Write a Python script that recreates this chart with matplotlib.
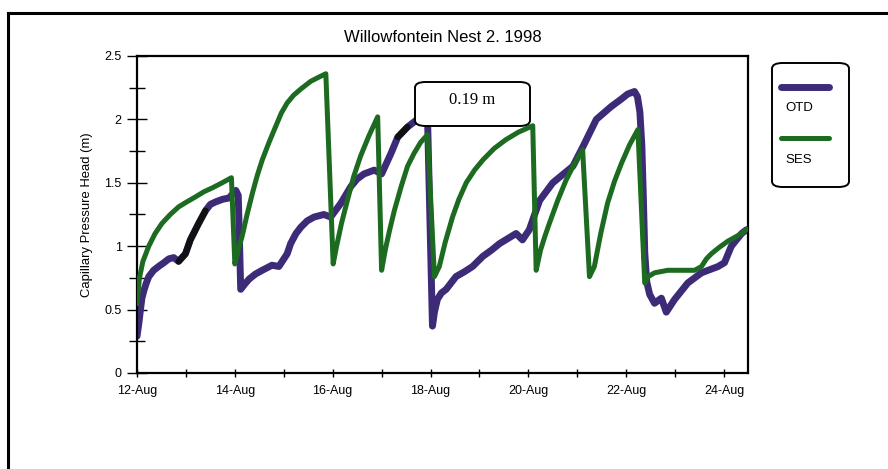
import numpy as np
import matplotlib.pyplot as plt
from matplotlib.lines import Line2D
from matplotlib.patches import FancyBboxPatch

plt.rcParams['font.family'] = ['Liberation Sans', 'DejaVu Sans']

# Дни августа 1998 (дробные) и напор, м
otd_day = [12.0, 12.04, 12.07, 12.10, 12.14, 12.19, 12.24, 12.34, 12.44, 12.55,
           12.65, 12.75, 12.85, 12.99, 13.09, 13.26, 13.40, 13.50, 13.61, 13.75,
           13.88, 14.02, 14.07, 14.12, 14.20, 14.29, 14.42, 14.56, 14.66, 14.76,
           14.90, 15.07, 15.14, 15.25, 15.35, 15.48, 15.62, 15.82, 15.96, 16.17,
           16.37, 16.50, 16.64, 16.85, 17.00, 17.19, 17.33, 17.53, 17.73, 17.94,
           18.04, 18.08, 18.14, 18.22, 18.32, 18.52, 18.70, 18.86, 19.07, 19.25,
           19.41, 19.58, 19.75, 19.88, 20.02, 20.23, 20.50, 20.72, 20.91, 21.11,
           21.39, 21.69, 21.90, 22.03, 22.17, 22.23, 22.28, 22.32, 22.35, 22.38,
           22.42, 22.48, 22.58, 22.72, 22.82, 22.99, 23.26, 23.54, 23.88, 24.01,
           24.15, 24.36, 24.46]
otd_val = [0.29, 0.40, 0.50, 0.59, 0.65, 0.71, 0.76, 0.81, 0.84, 0.87,
           0.90, 0.91, 0.88, 0.94, 1.05, 1.18, 1.28, 1.33, 1.35, 1.37,
           1.38, 1.44, 1.40, 0.66, 0.70, 0.74, 0.78, 0.81, 0.83, 0.85,
           0.84, 0.94, 1.02, 1.10, 1.15, 1.20, 1.23, 1.25, 1.23, 1.34,
           1.47, 1.53, 1.57, 1.60, 1.57, 1.73, 1.86, 1.94, 2.00, 2.00,
           0.37, 0.48, 0.58, 0.63, 0.66, 0.76, 0.80, 0.84, 0.92, 0.97,
           1.02, 1.06, 1.10, 1.05, 1.13, 1.36, 1.50, 1.57, 1.63, 1.78,
           2.00, 2.10, 2.16, 2.20, 2.22, 2.18, 2.06, 1.80, 1.40, 0.95,
           0.72, 0.62, 0.55, 0.59, 0.48, 0.58, 0.71, 0.79, 0.84, 0.87,
           1.00, 1.10, 1.13]

ses_day = [12.0, 12.05, 12.12, 12.24, 12.37, 12.51, 12.68, 12.85, 13.02, 13.20,
           13.37, 13.54, 13.74, 13.93, 14.00, 14.07, 14.15, 14.25, 14.36, 14.46,
           14.56, 14.70, 14.83, 14.95, 15.07, 15.20, 15.35, 15.55, 15.70, 15.86,
           16.01, 16.08, 16.18, 16.30, 16.43, 16.57, 16.74, 16.92, 17.00, 17.08,
           17.16, 17.26, 17.40, 17.53, 17.66, 17.80, 17.94, 18.08, 18.18, 18.30,
           18.45, 18.58, 18.73, 18.90, 19.07, 19.30, 19.54, 19.80, 20.09, 20.16,
           20.25, 20.34, 20.43, 20.60, 20.77, 20.94, 21.11, 21.25, 21.35, 21.48,
           21.62, 21.76, 21.90, 22.07, 22.24, 22.38, 22.45, 22.58, 22.85, 23.40,
           23.54, 23.64, 23.74, 23.90, 24.08, 24.22, 24.36, 24.46]
ses_val = [0.55, 0.75, 0.88, 1.00, 1.10, 1.18, 1.25, 1.31, 1.35, 1.39,
           1.43, 1.46, 1.50, 1.54, 0.86, 0.97, 1.08, 1.25, 1.42, 1.56,
           1.68, 1.82, 1.94, 2.05, 2.13, 2.19, 2.24, 2.30, 2.33, 2.36,
           0.86, 1.00, 1.18, 1.36, 1.55, 1.71, 1.87, 2.02, 0.81, 0.98,
           1.12, 1.28, 1.47, 1.63, 1.73, 1.82, 1.88, 0.76, 0.84, 1.03,
           1.23, 1.37, 1.50, 1.60, 1.68, 1.77, 1.84, 1.90, 1.95, 0.81,
           0.97, 1.08, 1.18, 1.36, 1.52, 1.65, 1.76, 0.76, 0.84, 1.10,
           1.34, 1.51, 1.65, 1.80, 1.92, 0.71, 0.76, 0.79, 0.81, 0.81,
           0.84, 0.90, 0.94, 0.99, 1.04, 1.07, 1.10, 1.13]

x_ticks = list(range(12, 25))
x_labels = ['12-Aug', '', '14-Aug', '', '16-Aug', '', '18-Aug', '', '20-Aug',
            '', '22-Aug', '', '24-Aug']

otd_color = '#3d2b78'
ses_color = '#1d6b20'

fig = plt.figure(figsize=(8.88, 4.69), dpi=100)
ax = fig.add_axes([0.1543, 0.2047, 0.688, 0.6759])

otd_day = np.array(otd_day)
otd_val = np.array(otd_val)
ax.plot(otd_day, otd_val, color=otd_color, lw=5.0, solid_joinstyle='round',
        solid_capstyle='round', zorder=2)
# тёмные участки скана
dark = (otd_day >= 12.8) & (otd_day <= 13.45)
ax.plot(otd_day[dark], otd_val[dark], color='#111111', lw=4.5,
        solid_capstyle='round', zorder=2)
dark2 = (otd_day >= 17.3) & (otd_day <= 17.6)
ax.plot(otd_day[dark2], otd_val[dark2], color='#111111', lw=4.5,
        solid_capstyle='round', zorder=2)
ax.plot(ses_day, ses_val, color=ses_color, lw=3.6, solid_joinstyle='round',
        zorder=3)

ax.set_xlim(12, 24.49)
ax.set_ylim(0, 2.5)
ax.set_xticks(x_ticks)
ax.set_xticklabels(x_labels, fontsize=9)
ax.set_yticks([0, 0.5, 1, 1.5, 2, 2.5])
ax.set_yticklabels(['0', '0.5', '1', '1.5', '2', '2.5'], fontsize=9)
ax.set_yticks(np.arange(0.25, 2.5, 0.5), minor=True)
ax.tick_params(axis='y', which='major', direction='inout', length=14, width=1, pad=4)
ax.tick_params(axis='y', which='minor', direction='inout', length=11, width=1)
ax.tick_params(axis='x', direction='inout', length=6, width=1, pad=6)
for s in ax.spines.values():
    s.set_linewidth(1.6)
ax.set_ylabel('Capillary Pressure Head (m)', fontsize=9.4, labelpad=8)
ax.set_title('Willowfontein Nest 2. 1998', fontsize=12, pad=10)

# подпись 0.19 m
W, H = 888.0, 469.0
box = FancyBboxPatch((415 / W, 1 - 126 / H), 115 / W, 44 / H,
                     boxstyle='round,pad=0,rounding_size=0.012',
                     transform=fig.transFigure, fc='white', ec='black', lw=1.4,
                     zorder=5)
fig.patches.append(box)
fig.text(472 / W, 1 - 100 / H, '0.19 m', ha='center', va='center',
         family=['Liberation Serif', 'DejaVu Serif'], fontsize=12, zorder=6)

# легенда
leg = FancyBboxPatch((772 / W, 1 - 187 / H), 77 / W, 124 / H,
                     boxstyle='round,pad=0,rounding_size=0.012',
                     transform=fig.transFigure, fc='white', ec='black', lw=1.4)
fig.patches.append(leg)
fig.lines.append(Line2D([781 / W, 829 / W], [1 - 87 / H, 1 - 87 / H],
                        transform=fig.transFigure, color=otd_color, lw=5,
                        solid_capstyle='round'))
fig.text(785 / W, 1 - 108 / H, 'OTD', ha='left', va='center', fontsize=9.5)
fig.lines.append(Line2D([781 / W, 829 / W], [1 - 138 / H, 1 - 138 / H],
                        transform=fig.transFigure, color=ses_color, lw=3.6,
                        solid_capstyle='round'))
fig.text(785 / W, 1 - 160 / H, 'SES', ha='left', va='center', fontsize=9.5)

# внешняя рамка
fig.lines.append(Line2D([8 / W, 1.0], [1 - 13 / H, 1 - 13 / H],
                        transform=fig.transFigure, color='black', lw=2.2))
fig.lines.append(Line2D([8 / W, 8 / W], [0, 1 - 13 / H],
                        transform=fig.transFigure, color='black', lw=2.2))

fig.savefig('out.png', dpi=100)
